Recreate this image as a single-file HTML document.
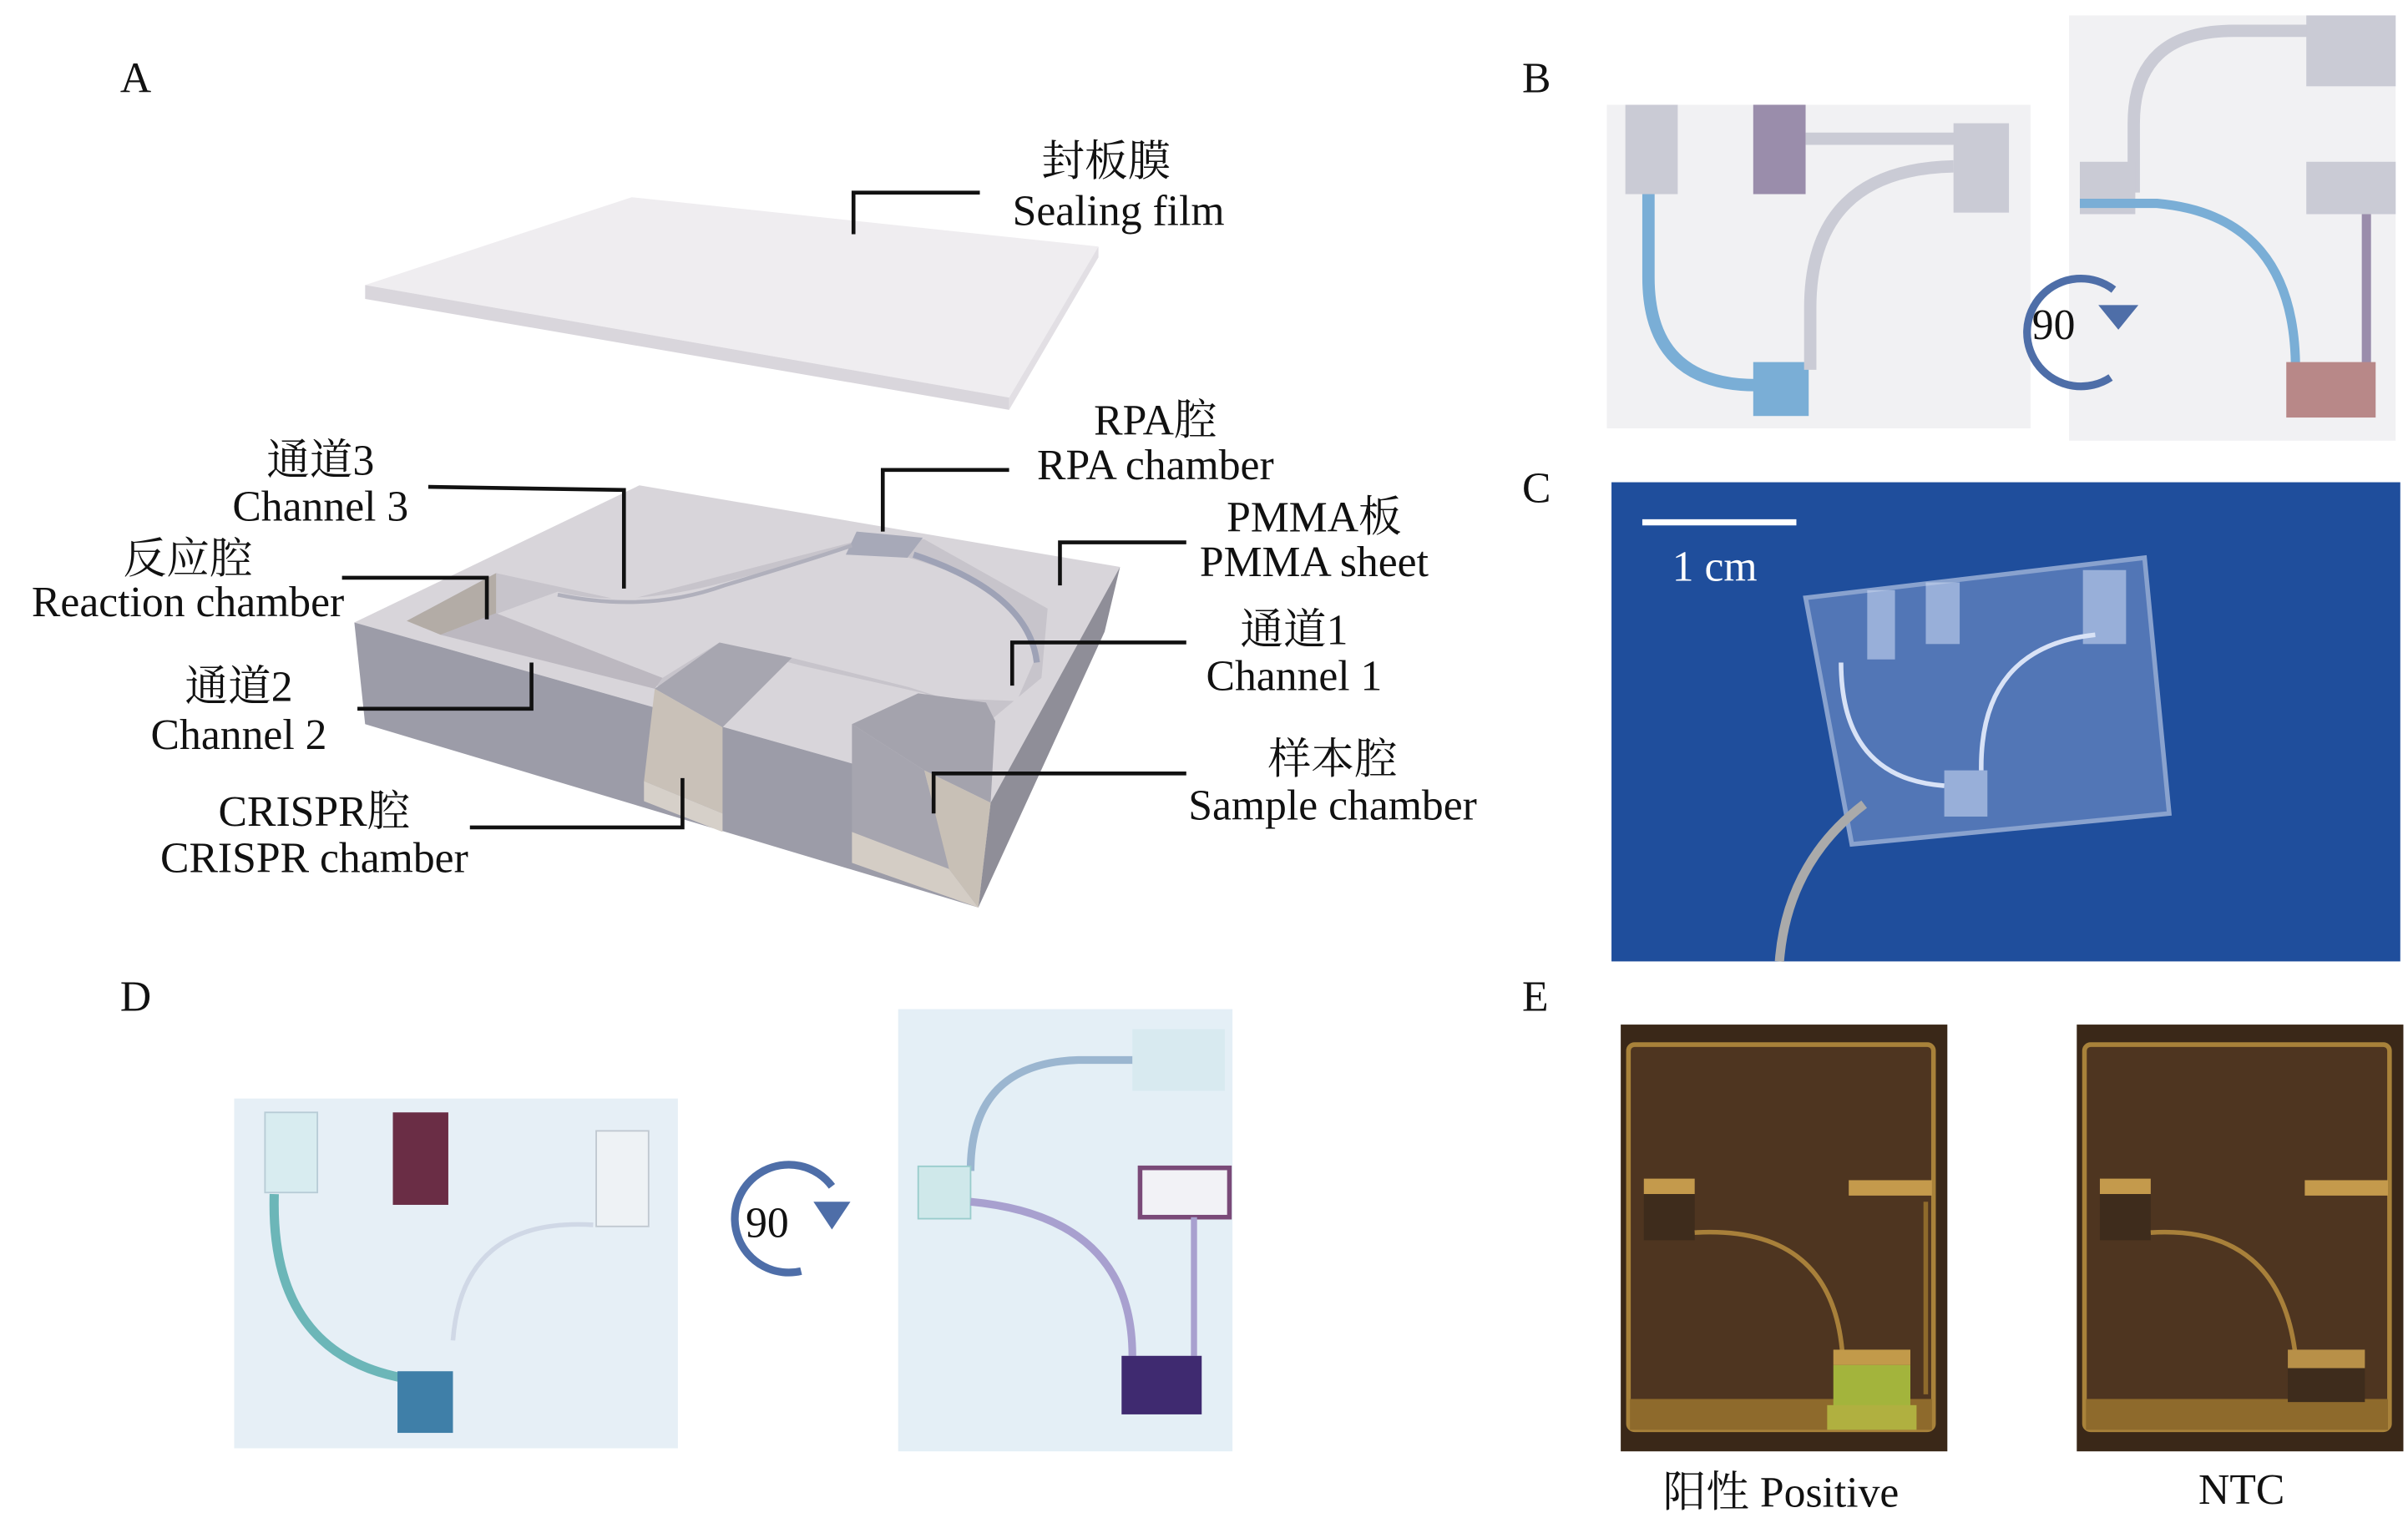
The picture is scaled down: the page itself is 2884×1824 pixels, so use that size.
<!DOCTYPE html>
<html><head><meta charset="utf-8"><style>
html,body{margin:0;padding:0;background:#fff;}
svg{display:block;}
text{font-family:"Liberation Serif","Noto Serif CJK SC","Noto Sans CJK SC",serif;fill:#111;}
</style></head><body>
<svg width="2884" height="1824" viewBox="0 0 1563 988.5" preserveAspectRatio="none" xmlns="http://www.w3.org/2000/svg">
<rect width="1563" height="988.5" fill="#fff"/>
<g font-size="28">
<text x="78" y="60">A</text><text x="988" y="60">B</text><text x="988" y="326">C</text>
<text x="78" y="656">D</text><text x="988" y="656">E</text>
</g>
<!-- Sealing film -->
<polygon points="237,185 410,128 713,160 655,258" fill="#efedf0"/>
<polygon points="237,185 655,258 655,266 237,194" fill="#d9d6dc"/>
<polygon points="655,258 713,160 713,167 655,266" fill="#e2dfe4"/>
<!-- Chip -->
<polygon points="230,404 415,315 727,368 643,521" fill="#d8d5da"/>
<polygon points="230,404 643,521 635,589 237,470" fill="#9c9ca8"/>
<polygon points="643,521 727,368 717,410 635,589" fill="#8f8e98"/>
<!-- recessed floor around island -->
<polygon points="264,403 322,372 405,390 553,352 600,350 680,395 676,440 640,470 600,450 520,432 466,418 430,446" fill="#c7c4cb"/>
<!-- island -->
<path d="M318,400 L362,384 Q405,395 470,378 Q530,362 553,355 L590,362 Q668,385 673,425 L660,455 L612,453 L590,446 L514,427 L467,417 L430,440 Z" fill="#d8d5da"/>
<!-- reaction chamber pocket -->
<polygon points="264,403 322,372 322,398 286,412" fill="#b3aca6"/>
<polygon points="286,412 322,398 430,440 425,447" fill="#bcb8c0"/>
<!-- RPA notch -->
<polygon points="556,345 599,349 589,362 549,360" fill="#a7a9b8"/>
<!-- channel arcs -->
<path d="M362,386 Q420,398 470,380 Q530,362 553,354" stroke="#b0b0bc" stroke-width="2.5" fill="none"/>
<path d="M593,360 Q668,385 673,430" stroke="#9ea2b6" stroke-width="4" fill="none"/>
<!-- CRISPR slot -->
<polygon points="425,447 467,417 514,427 469,472" fill="#a7a6b0"/>
<polygon points="425,447 469,472 469,528 418,507" fill="#c9c1b8"/>
<polygon points="418,507 469,528 469,540 418,520" fill="#d6d0c9"/>
<!-- Sample slot -->
<polygon points="553,470 596,450 640,456 646,468 643,521 600,500" fill="#a4a3ad"/>
<polygon points="553,470 600,500 616,564 553,540" fill="#a6a5af"/>
<polygon points="600,500 643,521 635,589 616,564" fill="#c8c0b6"/>
<polygon points="553,540 616,564 635,589 553,560" fill="#d4cdc5"/>
<!-- Leader lines -->
<g stroke="#111" stroke-width="2.5" fill="none">
<polyline points="636,125 554,125 554,152"/>
<polyline points="278,316 405,318 405,382"/>
<polyline points="655,305 573,305 573,345"/>
<polyline points="770,352 688,352 688,380"/>
<polyline points="222,375 316,375 316,402"/>
<polyline points="770,417 657,417 657,445"/>
<polyline points="232,460 345,460 345,430"/>
<polyline points="770,502 606,502 606,528"/>
<polyline points="305,537 443,537 443,505"/>
</g>
<g font-size="28" text-anchor="middle">
<text x="718" y="114">封板膜</text><text x="726" y="146">Sealing film</text>
<text x="208" y="308">通道3</text><text x="208" y="338">Channel 3</text>
<text x="750" y="282">RPA腔</text><text x="750" y="311">RPA chamber</text>
<text x="853" y="345">PMMA板</text><text x="853" y="374">PMMA sheet</text>
<text x="122" y="372">反应腔</text><text x="122" y="400">Reaction chamber</text>
<text x="840" y="418">通道1</text><text x="840" y="448">Channel 1</text>
<text x="155" y="455">通道2</text><text x="155" y="486">Channel 2</text>
<text x="865" y="502">样本腔</text><text x="865" y="532">Sample chamber</text>
<text x="204" y="536">CRISPR腔</text><text x="204" y="566">CRISPR chamber</text>
</g>
<!-- Panel B -->
<rect x="1043" y="68" width="275" height="210" fill="#f1f1f3"/>
<rect x="1055" y="68" width="34" height="58" fill="#cacbd5"/>
<rect x="1138" y="68" width="34" height="58" fill="#9a8dab"/>
<rect x="1268" y="80" width="36" height="58" fill="#cacbd5"/>
<path d="M1070,126 L1070,180 Q1070,250 1140,250 L1150,250" stroke="#7aaed6" stroke-width="8" fill="none"/>
<rect x="1138" y="235" width="36" height="35" fill="#7aaed6"/>
<path d="M1172,90 L1270,90" stroke="#cacbd5" stroke-width="8"/>
<path d="M1175,240 L1175,200 Q1175,110 1268,108" stroke="#cacbd5" stroke-width="8" fill="none"/>
<rect x="1343" y="10" width="212" height="276" fill="#f1f1f3"/>
<path d="M1385,125 L1385,80 Q1385,20 1450,20 L1500,20" stroke="#cacbd5" stroke-width="8" fill="none"/>
<rect x="1497" y="10" width="58" height="46" fill="#cacbd5"/>
<rect x="1497" y="105" width="58" height="34" fill="#cacbd5"/>
<rect x="1350" y="105" width="36" height="34" fill="#cacbd5"/>
<path d="M1350,132 L1400,132 Q1490,140 1490,240" stroke="#7aaed6" stroke-width="6" fill="none"/>
<path d="M1536,139 L1536,240" stroke="#9a8dab" stroke-width="6"/>
<rect x="1484" y="235" width="58" height="36" fill="#b88888"/>
<path d="M1370,245 A35,35 0 1 1 1372,188" stroke="#4e6ea8" stroke-width="5" fill="none"/>
<polygon points="1362,198 1388,198 1375,214" fill="#4e6ea8"/>
<text x="1333" y="220" font-size="28" text-anchor="middle">90</text>
<!-- Panel C -->
<rect x="1046" y="313" width="512" height="311" fill="#1f4e9c"/>
<line x1="1066" y1="339" x2="1166" y2="339" stroke="#fff" stroke-width="4"/>
<text x="1113" y="377" font-size="28" text-anchor="middle" style="fill:#fff">1 cm</text>
<polygon points="1172,388 1392,362 1408,528 1202,548" fill="#7d98cc" opacity="0.55" stroke="#e0e8f8" stroke-width="3"/>
<rect x="1212" y="383" width="18" height="45" fill="#c8d6f0" opacity="0.6"/>
<rect x="1250" y="378" width="22" height="40" fill="#c8d6f0" opacity="0.6"/>
<rect x="1352" y="370" width="28" height="48" fill="#c8d6f0" opacity="0.6"/>
<rect x="1262" y="500" width="28" height="30" fill="#c8d6f0" opacity="0.6"/>
<path d="M1195,430 Q1195,505 1262,510" stroke="#d8e2f6" stroke-width="3" fill="none"/>
<path d="M1286,500 Q1285,420 1360,412" stroke="#d8e2f6" stroke-width="3" fill="none"/>
<path d="M1155,624 Q1160,560 1210,522" stroke="#aaa" stroke-width="6" fill="none"/>
<!-- Panel D -->
<rect x="152" y="713" width="288" height="227" fill="#e6eff6"/>
<rect x="255" y="722" width="36" height="60" fill="#6a2d45"/>
<rect x="172" y="722" width="34" height="52" fill="#d8ecf0" stroke="#b8ccd6"/>
<rect x="387" y="734" width="34" height="62" fill="#eef2f5" stroke="#c0c8d0"/>
<path d="M178,775 Q175,880 265,895" stroke="#6cb6b8" stroke-width="6" fill="none"/>
<rect x="258" y="890" width="36" height="40" fill="#3f7fa8"/>
<path d="M294,870 Q300,790 385,795" stroke="#d0d8e6" stroke-width="3" fill="none"/>
<path d="M520,825 A35,35 0 1 1 540,770" stroke="#4e6ea8" stroke-width="5" fill="none"/>
<polygon points="528,780 552,780 540,798" fill="#4e6ea8"/>
<text x="498" y="803" font-size="28" text-anchor="middle">90</text>
<rect x="583" y="655" width="217" height="287" fill="#e4eff6"/>
<rect x="735" y="668" width="60" height="40" fill="#d8eaf0"/>
<path d="M630,760 Q630,690 700,688 L735,688" stroke="#9bb6d0" stroke-width="5" fill="none"/>
<rect x="596" y="757" width="34" height="34" fill="#cfe8ea" stroke="#9cc"/>
<rect x="740" y="758" width="58" height="32" fill="#f2f2f6" stroke="#7a4a78" stroke-width="3"/>
<path d="M630,780 Q735,790 735,880" stroke="#a8a0cf" stroke-width="5" fill="none"/>
<path d="M775,790 L775,880" stroke="#a8a0cf" stroke-width="4"/>
<rect x="728" y="880" width="52" height="38" fill="#3f2a70"/>
<!-- Panel E -->
<g>
<rect x="1052" y="665" width="212" height="277" fill="#3a2818"/>
<rect x="1057" y="678" width="198" height="250" rx="4" fill="#4e3520" stroke="#a8823a" stroke-width="3"/>
<rect x="1058" y="908" width="196" height="20" fill="#8e6a2c"/>
<rect x="1067" y="765" width="33" height="10" fill="#c49a4c"/>
<rect x="1067" y="775" width="33" height="30" fill="#3e2c1c"/>
<rect x="1200" y="766" width="54" height="10" fill="#c49a4c"/>
<path d="M1100,800 Q1190,795 1196,880" stroke="#a8803a" stroke-width="3" fill="none"/>
<path d="M1250,780 L1250,905" stroke="#8e6a2c" stroke-width="3"/>
<rect x="1190" y="876" width="50" height="10" fill="#c29a4a"/>
<rect x="1190" y="886" width="50" height="28" fill="#a3b43c"/>
<rect x="1186" y="912" width="58" height="16" fill="#b0b040"/>
</g>
<g>
<rect x="1348" y="665" width="212" height="277" fill="#3a2818"/>
<rect x="1353" y="678" width="198" height="250" rx="4" fill="#4e3520" stroke="#a8823a" stroke-width="3"/>
<rect x="1354" y="908" width="196" height="20" fill="#8e6a2c"/>
<rect x="1363" y="765" width="33" height="10" fill="#c49a4c"/>
<rect x="1363" y="775" width="33" height="30" fill="#3e2c1c"/>
<rect x="1496" y="766" width="54" height="10" fill="#c49a4c"/>
<path d="M1396,800 Q1480,795 1490,880" stroke="#a8803a" stroke-width="3" fill="none"/>
<rect x="1485" y="876" width="50" height="12" fill="#b89048"/>
<rect x="1485" y="888" width="50" height="22" fill="#3e2c1c"/>
</g>
<text x="1156" y="978" font-size="28" text-anchor="middle">阳性 Positive</text>
<text x="1455" y="976" font-size="28" text-anchor="middle">NTC</text>
</svg>
</body></html>
